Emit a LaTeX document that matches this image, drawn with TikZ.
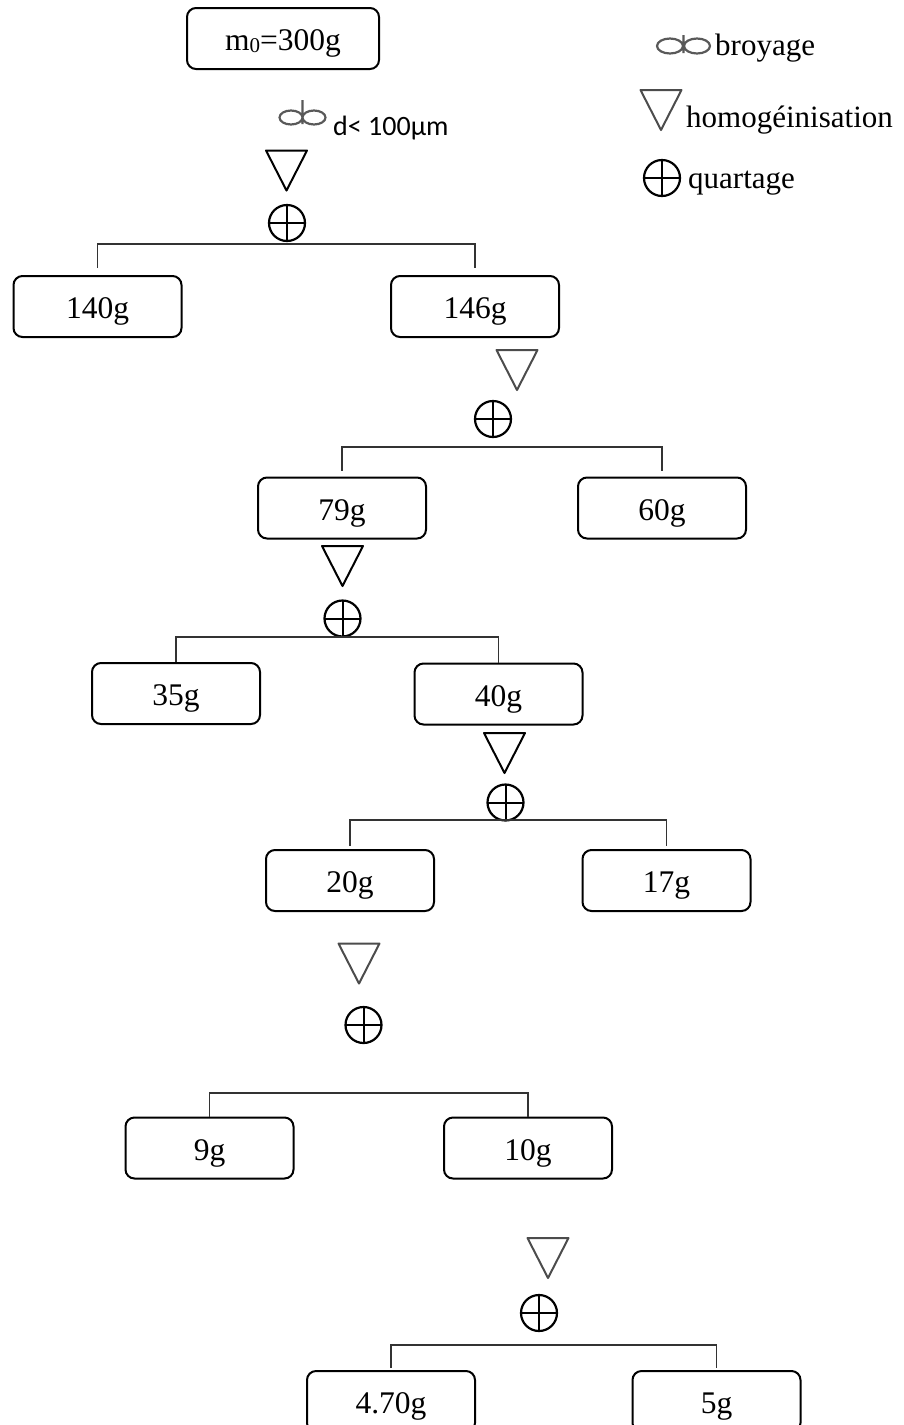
\documentclass[tikz,border=0pt]{standalone}
\usepackage{fontspec}
\setmainfont{Liberation Serif}
\newfontfamily\calfont{Carlito}
\begin{document}
\begin{tikzpicture}[x=1pt,y=-1pt,
  box/.style={draw,line width=2pt,rounded corners=9pt,minimum width=168pt,minimum height=61pt,
    inner sep=0pt,text height=24pt,text depth=0pt,font=\fontsize{31.5}{37}\selectfont},
  link/.style={line width=1.4pt,draw=black!80},
  lbl/.style={anchor=base west,inner sep=0pt,font=\fontsize{31}{37}\selectfont},
  broyline/.style={line width=2.2pt,draw=black!65},
  pics/homog/.style={code={\draw[line width=2pt,draw=#1,line join=round]
      (-20.5,-20) -- (20.5,-20) -- (0,20) -- cycle;}},
  pics/homog/.default=black,
  pics/quart/.style={code={\draw[line width=2.2pt] (0,0) circle[radius=18pt];
      \draw[line width=2pt] (-18,0) -- (18,0) (0,-18) -- (0,18);}},
]
\useasboundingbox (0,0) rectangle (903,1425);
\clip (0,0) rectangle (903,1425);

% legend
\draw[broyline] (670,46) ellipse[x radius=13pt,y radius=7.5pt]
  (697,46) ellipse[x radius=13pt,y radius=7.5pt] (683.5,35) -- (683.5,53);
\node[lbl] (lbroy) at (715,55) {broyage};
\pic at (661,110) {homog=black!70};
\node[lbl] (lhomog) at (686,127) {homogéinisation};
\pic at (662,178) {quart};
\node[lbl] (lquart) at (688,188) {quartage};

% boxes
\node[box,minimum width=192pt] (m0) at (283,38.5) {m{\fontsize{21}{21}\selectfont\raisebox{-2pt}{0}}=300g};
\node[box] (b140) at (97.5,306.5) {140g};
\node[box] (b146) at (475,306.5) {146g};
\node[box] (b79) at (342,508) {79g};
\node[box] (b60) at (662,508) {60g};
\node[box] (b35) at (176,693.5) {35g};
\node[box] (b40) at (498.5,694) {40g};
\node[box] (b20) at (350,880.5) {20g};
\node[box] (b17) at (666.5,880.5) {17g};
\node[box] (b9) at (209.5,1148) {9g};
\node[box] (b10) at (528,1148) {10g};
\node[box] (b470) at (391,1401.5) {4.70g};
\node[box] (b5) at (716.5,1401.5) {5g};

% level 1
\draw[broyline] (291,117.5) ellipse[x radius=11.5pt,y radius=7pt]
  (314,117.5) ellipse[x radius=11.5pt,y radius=7pt] (302.5,100) -- (302.5,124);
\node[anchor=base west,inner sep=0pt,font=\calfont\fontsize{28}{34}\selectfont] (dsize) at (333,135) {d< 100μm};
\pic at (286.5,170.5) {homog};
\pic at (287,223) {quart};
\coordinate (k1) at (287,244);
\draw[link] ([yshift=7pt]b140.north) |- (k1) -| ([yshift=7pt]b146.north);

% level 2
\pic at (517,370) {homog=black!70};
\pic at (493,419) {quart};
\coordinate (k2) at (493,447);
\draw[link] ([yshift=6pt]b79.north) |- (k2) -| ([yshift=6pt]b60.north);

% level 3
\pic at (342.5,566) {homog};
\pic at (342.5,618.5) {quart};
\coordinate (k3) at (342.5,637);
\draw[link] (b35.north) |- (k3) -| (b40.north);

% level 4
\pic at (504.5,753) {homog};
\pic at (505.5,802.5) {quart};
\coordinate (k4) at (505.5,820);
\draw[link] ([yshift=3pt]b20.north) |- (k4) -| ([yshift=3pt]b17.north);

% level 5
\pic at (359,963.5) {homog=black!70};
\pic at (363.5,1025) {quart};
\coordinate (k5) at (363.5,1093);
\draw[link] (b9.north) |- (k5) -| (b10.north);

% level 6
\pic at (548,1258) {homog=black!70};
\pic at (539,1313) {quart};
\coordinate (k6) at (539,1345);
\draw[link] ([yshift=2pt]b470.north) |- (k6) -| ([yshift=2pt]b5.north);
\end{tikzpicture}
\end{document}
